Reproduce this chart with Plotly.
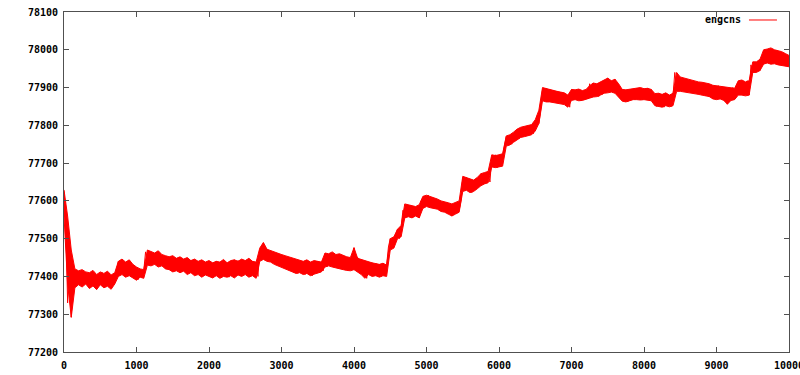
import plotly.graph_objects as go

series_name = "engcns"

# noisy trace, one reading every 25 units of x
x_step = 25
y_values = [
    77625, 77540, 77330, 77470, 77292, 77410, 77380, 77415, 77385, 77408, 77378, 77412, 77384, 77405, 77372, 77410, 77380, 77403, 77370, 77398,
    77385, 77410, 77375, 77402, 77380, 77408, 77372, 77400, 77386, 77410, 77440, 77405, 77438, 77410, 77436, 77403, 77430, 77400, 77425, 77395,
    77418, 77392, 77412, 77398, 77415, 77465, 77435, 77462, 77430, 77458, 77432, 77455, 77428, 77458, 77430, 77450, 77422, 77448, 77425, 77446,
    77445, 77418, 77448, 77420, 77442, 77415, 77446, 77418, 77440, 77412, 77443, 77416, 77438, 77405, 77436, 77410, 77440, 77402, 77435, 77408,
    77438, 77403, 77436, 77408, 77440, 77400, 77432, 77406, 77438, 77402, 77435, 77398, 77440, 77407, 77444, 77410, 77442, 77405, 77440, 77408,
    77442, 77405, 77445, 77408, 77440, 77402, 77438, 77400, 77470, 77445, 77488, 77448, 77470, 77440, 77468, 77438, 77462, 77432, 77460, 77430,
    77458, 77425, 77452, 77420, 77448, 77415, 77446, 77410, 77442, 77408, 77440, 77412, 77438, 77405, 77440, 77410, 77436, 77402, 77438, 77410,
    77440, 77412, 77438, 77415, 77460, 77425, 77458, 77430, 77462, 77428, 77455, 77425, 77458, 77422, 77452, 77420, 77450, 77418, 77448, 77420,
    77476, 77418, 77450, 77412, 77445, 77405, 77440, 77395, 77438, 77408, 77436, 77402, 77435, 77405, 77432, 77400, 77433, 77405, 77430, 77478,
    77500, 77475, 77495, 77510, 77525, 77500, 77530, 77575, 77555, 77590, 77560, 77588, 77558, 77585, 77562, 77580, 77555, 77600, 77585, 77612,
    77590, 77615, 77588, 77610, 77585, 77605, 77580, 77602, 77575, 77598, 77572, 77595, 77565, 77592, 77560, 77590, 77568, 77595, 77575, 77600,
    77660, 77630, 77662, 77628, 77655, 77622, 77650, 77630, 77660, 77640, 77672, 77645, 77670, 77648, 77675, 77650, 77715, 77690, 77722, 77688,
    77718, 77692, 77720, 77745, 77770, 77748, 77772, 77750, 77778, 77760, 77785, 77765, 77792, 77770, 77795, 77772, 77798, 77775, 77800, 77778,
    77802, 77825, 77805, 77840, 77895, 77870, 77898, 77865, 77895, 77868, 77892, 77862, 77890, 77860, 77888, 77858, 77885, 77855, 77880, 77848,
    77895, 77868, 77892, 77870, 77895, 77865, 77890, 77868, 77893, 77870, 77910, 77878, 77912, 77880, 77908, 77876, 77910, 77882, 77920, 77888,
    77925, 77890, 77918, 77888, 77922, 77885, 77905, 77872, 77895, 77865, 77892, 77862, 77894, 77868, 77896, 77870, 77898, 77872, 77897, 77868,
    77896, 77870, 77898, 77868, 77895, 77862, 77880, 77850, 77884, 77852, 77882, 77848, 77885, 77852, 77880, 77850, 77878, 77940, 77895, 77925,
    77892, 77925, 77890, 77922, 77888, 77920, 77886, 77918, 77885, 77915, 77882, 77912, 77880, 77910, 77878, 77908, 77875, 77905, 77870, 77903,
    77872, 77905, 77870, 77902, 77868, 77900, 77856, 77895, 77868, 77900, 77870, 77898, 77882, 77918, 77880, 77915, 77882, 77918, 77880, 77960,
    77940, 77965, 77942, 77968, 77945, 77975, 77965, 77998, 77968, 77995, 77962, 78000, 77965, 77998, 77962, 77995, 77960, 77990, 77958, 77985,
    77965,
]
x_values = [i * x_step for i in range(len(y_values))]

# lower / upper edge of the dense noise band, one reading every 50 units
band_step = 50
band_low = [
    77560, 77380, 77292, 77370, 77378, 77372, 77380, 77368, 77375, 77365,
    77378, 77370, 77374, 77366, 77380, 77400, 77405, 77398, 77402, 77395,
    77390, 77398, 77395, 77430, 77428, 77432, 77425, 77428, 77420, 77418,
    77412, 77415, 77410, 77414, 77405, 77410, 77402, 77405, 77398, 77404,
    77400, 77396, 77402, 77395, 77400, 77398, 77402, 77396, 77404, 77400,
    77405, 77398, 77402, 77395, 77440, 77445, 77440, 77438, 77432, 77428,
    77425, 77420, 77415, 77412, 77408, 77410, 77405, 77408, 77402, 77406,
    77410, 77412, 77425, 77428, 77425, 77422, 77420, 77418, 77416, 77415,
    77418, 77412, 77405, 77395, 77405, 77400, 77402, 77398, 77402, 77400,
    77470, 77475, 77500, 77505, 77555, 77558, 77555, 77560, 77555, 77580,
    77585, 77582, 77580, 77578, 77572, 77570, 77565, 77560, 77565, 77570,
    77625, 77628, 77622, 77625, 77632, 77640, 77645, 77648, 77690, 77688,
    77690, 77692, 77745, 77748, 77755, 77762, 77768, 77770, 77772, 77775,
    77785, 77805, 77865, 77862, 77862, 77860, 77858, 77855, 77855, 77848,
    77866, 77868, 77865, 77866, 77868, 77872, 77875, 77876, 77880, 77885,
    77886, 77888, 77885, 77875, 77864, 77862, 77866, 77868, 77868, 77867,
    77868, 77866, 77865, 77852, 77850, 77848, 77852, 77849, 77852, 77890,
    77890, 77888, 77886, 77885, 77884, 77882, 77880, 77879, 77876, 77870,
    77868, 77870, 77866, 77856, 77866, 77868, 77880, 77880, 77878, 77880,
    77940, 77940, 77945, 77962, 77965, 77962, 77963, 77960, 77958, 77955,
    77955,
]
band_high = [
    77629, 77560, 77470, 77420, 77415, 77418, 77412, 77410, 77416, 77405,
    77412, 77408, 77414, 77404, 77410, 77440, 77446, 77438, 77444, 77432,
    77425, 77420, 77418, 77470, 77466, 77462, 77468, 77458, 77455, 77452,
    77455, 77448, 77452, 77446, 77450, 77442, 77446, 77440, 77444, 77438,
    77442, 77436, 77440, 77438, 77445, 77436, 77442, 77444, 77440, 77446,
    77442, 77448, 77440, 77438, 77475, 77490, 77472, 77468, 77466, 77462,
    77458, 77455, 77452, 77450, 77446, 77442, 77440, 77444, 77438, 77442,
    77440, 77438, 77462, 77460, 77465, 77458, 77460, 77455, 77452, 77450,
    77476, 77448, 77445, 77440, 77438, 77436, 77434, 77432, 77435, 77430,
    77500, 77505, 77525, 77535, 77592, 77590, 77588, 77585, 77590, 77612,
    77615, 77612, 77608, 77605, 77600, 77598, 77595, 77592, 77595, 77600,
    77665, 77662, 77658, 77655, 77662, 77672, 77675, 77678, 77722, 77720,
    77722, 77725, 77772, 77775, 77782, 77790, 77795, 77798, 77800, 77802,
    77815, 77840, 77900, 77898, 77895, 77893, 77890, 77888, 77886, 77880,
    77895, 77894, 77896, 77892, 77895, 77905, 77912, 77910, 77915, 77920,
    77925, 77918, 77922, 77910, 77895, 77894, 77896, 77898, 77898, 77900,
    77897, 77898, 77895, 77884, 77885, 77882, 77886, 77880, 77885, 77940,
    77928, 77925, 77922, 77920, 77918, 77915, 77914, 77912, 77910, 77906,
    77905, 77903, 77902, 77900, 77900, 77898, 77918, 77920, 77915, 77918,
    77968, 77968, 77975, 78000, 78002, 78005, 78000, 77998, 77995, 77990,
    77985,
]
band_x = [i * band_step for i in range(len(band_low))]

x_ticks = [0, 1000, 2000, 3000, 4000, 5000, 6000, 7000, 8000, 9000, 10000]
y_ticks = [77200, 77300, 77400, 77500, 77600, 77700, 77800, 77900, 78000, 78100]

RED = "#ff0000"
AXIS = "#505050"
FONT = dict(family="DejaVu Sans Mono", size=10, color="#000000")

fig = go.Figure()
fig.add_trace(go.Scatter(x=band_x, y=band_low, mode="lines",
                         line=dict(color=RED, width=1), showlegend=False,
                         hoverinfo="skip"))
fig.add_trace(go.Scatter(x=band_x, y=band_high, mode="lines", fill="tonexty",
                         fillcolor=RED, line=dict(color=RED, width=1),
                         showlegend=False, hoverinfo="skip"))
fig.add_trace(go.Scatter(x=x_values, y=y_values, mode="lines",
                         line=dict(color=RED, width=1), name=series_name,
                         showlegend=False))

axis_common = dict(showgrid=False, zeroline=False, showline=True, linecolor=AXIS,
                   linewidth=1, mirror="ticks", ticks="inside", ticklen=5,
                   tickcolor=AXIS, tickwidth=1, tickfont=FONT, automargin=False,
                   ticklabeloverflow="allow")

fig.update_xaxes(range=[0, 10000], tickvals=x_ticks,
                 ticktext=[f"<b>{v}</b>" for v in x_ticks],
                 ticklabelstandoff=4, **axis_common)
fig.update_yaxes(range=[77200, 78100], tickvals=y_ticks,
                 ticktext=[f"<b>{v}</b>" for v in y_ticks],
                 ticklabelstandoff=3, **axis_common)

# gnuplot-style key: text then line sample
fig.add_annotation(xref="paper", yref="paper", x=0.9366, y=0.9765, xanchor="right",
                   yanchor="middle", text=f"<b>{series_name}</b>", showarrow=False,
                   font=FONT)
fig.add_shape(type="line", xref="paper", yref="paper", x0=0.9448, x1=0.9834,
              y0=0.9765, y1=0.9765, line=dict(color=RED, width=1))

fig.update_layout(width=800, height=375, margin=dict(l=64, r=11, t=12, b=23),
                  paper_bgcolor="white", plot_bgcolor="white")

fig.write_html("out.html")
